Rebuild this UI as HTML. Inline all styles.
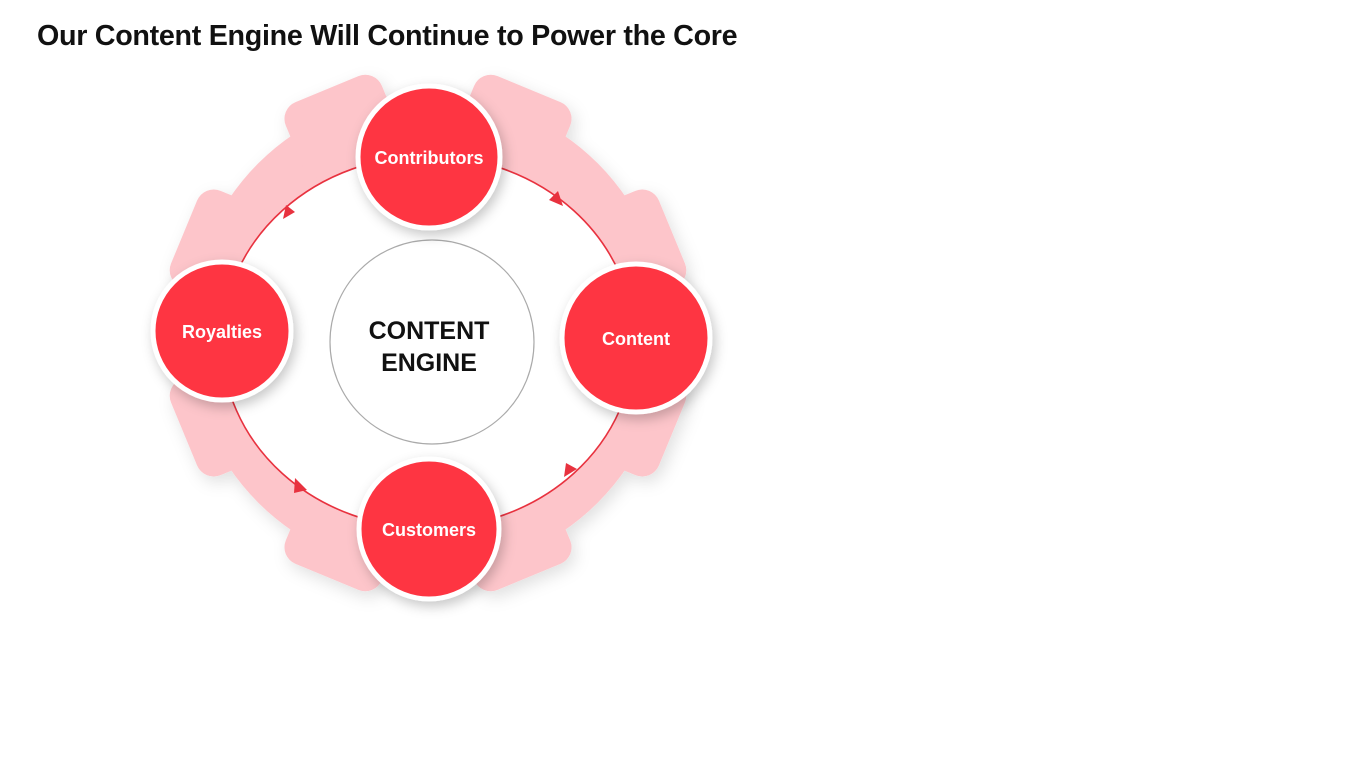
<!DOCTYPE html>
<html><head><meta charset="utf-8"><style>
body{margin:0;width:1365px;height:768px;background:#fff;overflow:hidden;font-family:"Liberation Sans",sans-serif}
h1{position:absolute;left:37px;top:20px;margin:0;font-size:28.7px;font-weight:bold;color:#111;letter-spacing:-0.3px}
</style></head><body>
<h1>Our Content Engine Will Continue to Power the Core</h1>
<svg width="1365" height="768" style="position:absolute;left:0;top:0">
<defs>
<filter id="sh" x="-30%" y="-30%" width="160%" height="160%"><feDropShadow dx="3" dy="5" stdDeviation="6" flood-color="#000" flood-opacity="0.22"/></filter>
<filter id="sh2" x="-20%" y="-20%" width="140%" height="140%"><feDropShadow dx="4" dy="6" stdDeviation="8" flood-color="#000" flood-opacity="0.12"/></filter>
</defs>
<g transform="translate(428,333)" filter="url(#sh2)">
<circle r="240" fill="#fdc5ca"/>
<g fill="#fdc5ca">
<rect x="-52" y="-264" width="104" height="80" rx="18" transform="rotate(22.5)"/>
<rect x="-52" y="-264" width="104" height="80" rx="18" transform="rotate(67.5)"/>
<rect x="-52" y="-264" width="104" height="80" rx="18" transform="rotate(112.5)"/>
<rect x="-52" y="-264" width="104" height="80" rx="18" transform="rotate(157.5)"/>
<rect x="-52" y="-264" width="104" height="80" rx="18" transform="rotate(202.5)"/>
<rect x="-52" y="-264" width="104" height="80" rx="18" transform="rotate(247.5)"/>
<rect x="-52" y="-264" width="104" height="80" rx="18" transform="rotate(292.5)"/>
<rect x="-52" y="-264" width="104" height="80" rx="18" transform="rotate(337.5)"/>
</g>
</g>
<ellipse cx="428" cy="342" rx="206" ry="186" fill="#fff" stroke="#e8323f" stroke-width="1.6"/>
<circle cx="432" cy="342" r="102" fill="#fff" stroke="#aaa" stroke-width="1.2"/>
<g fill="#e8323f">
<polygon points="563,206 549,200 558,191"/>
<polygon points="283,219 286,205 295,212"/>
<polygon points="295,478 307,490 294,493"/>
<polygon points="564,477 566,463 577,469"/>
</g>
<g filter="url(#sh)" fill="#fe3443" stroke="#fff" stroke-width="5">
<circle cx="429" cy="157" r="71"/>
<circle cx="636" cy="338" r="74"/>
<circle cx="222" cy="331" r="69"/>
<circle cx="429" cy="529" r="70"/>
</g>
<g fill="#fff" font-weight="bold" font-size="18" text-anchor="middle">
<text x="429" y="164">Contributors</text>
<text x="636" y="345">Content</text>
<text x="222" y="338">Royalties</text>
<text x="429" y="536">Customers</text>
</g>
<g fill="#111" font-weight="bold" font-size="25" text-anchor="middle">
<text x="429" y="339">CONTENT</text>
<text x="429" y="371">ENGINE</text>
</g>
</svg>
</body></html>
